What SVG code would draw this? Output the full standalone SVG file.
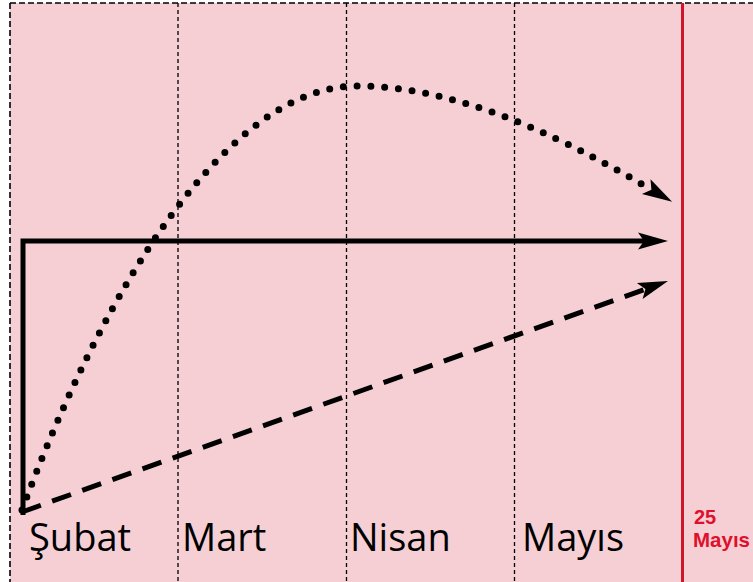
<svg xmlns="http://www.w3.org/2000/svg" width="753" height="582" viewBox="0 0 753 582">
<style>
.grid{stroke:#000;stroke-width:1.3;stroke-dasharray:4 3;fill:none}
.lbl{font-family:"Open Sans","Liberation Sans",sans-serif;font-size:38px;fill:#000}
.red{font-family:"Liberation Sans","Open Sans",sans-serif;font-weight:bold;fill:#E0102C}
.arr{fill:none;stroke:#000;stroke-width:5}
</style>
<defs>
<marker id="ah" markerUnits="userSpaceOnUse" viewBox="0 -10 32 20" markerWidth="32" markerHeight="20" refX="6" refY="0" orient="auto" overflow="visible">
<path d="M30,0 L0,-8.5 L6,0 L0,8.5 Z" fill="#000"/>
</marker>
</defs>
<g id="background">
<rect x="10" y="3" width="745" height="582" fill="#F5CFD4"/>
<path d="M10,3 H753 M10,3 V582" stroke="#000" stroke-width="1.6" stroke-dasharray="6 3" fill="none"/>
</g>
<g id="gridlines">
<line class="grid" x1="178" y1="3" x2="178" y2="582"/>
<line class="grid" x1="346.5" y1="3" x2="346.5" y2="582"/>
<line class="grid" x1="514.5" y1="3" x2="514.5" y2="582"/>
</g>
<g id="deadline">
<line x1="682.5" y1="3" x2="682.5" y2="582" stroke="#D0142C" stroke-width="3"/>
<text class="red" x="694" y="523.5" font-size="20">25</text>
<text class="red" x="693" y="547" font-size="20.5">Mayıs</text>
</g>
<g id="connectors">
<path class="arr" d="M23,515 V241 H644" stroke-linejoin="miter" marker-end="url(#ah)"/>
<path class="arr" d="M22,512 L645.4,289.1" stroke-dasharray="20 12" marker-end="url(#ah)"/>
<path d="M22,510 C103,290 227,86 357,86 C467,86 580,148 651.4,189.7" fill="none" stroke="#000" stroke-width="7" stroke-linecap="round" stroke-dasharray="0 13.8" marker-end="url(#ah)"/>
</g>
<g id="labels">
<text class="lbl" x="29" y="551">Şubat</text>
<text class="lbl" x="182" y="551">Mart</text>
<text class="lbl" x="350" y="551">Nisan</text>
<text class="lbl" x="522" y="551">Mayıs</text>
</g>
</svg>
